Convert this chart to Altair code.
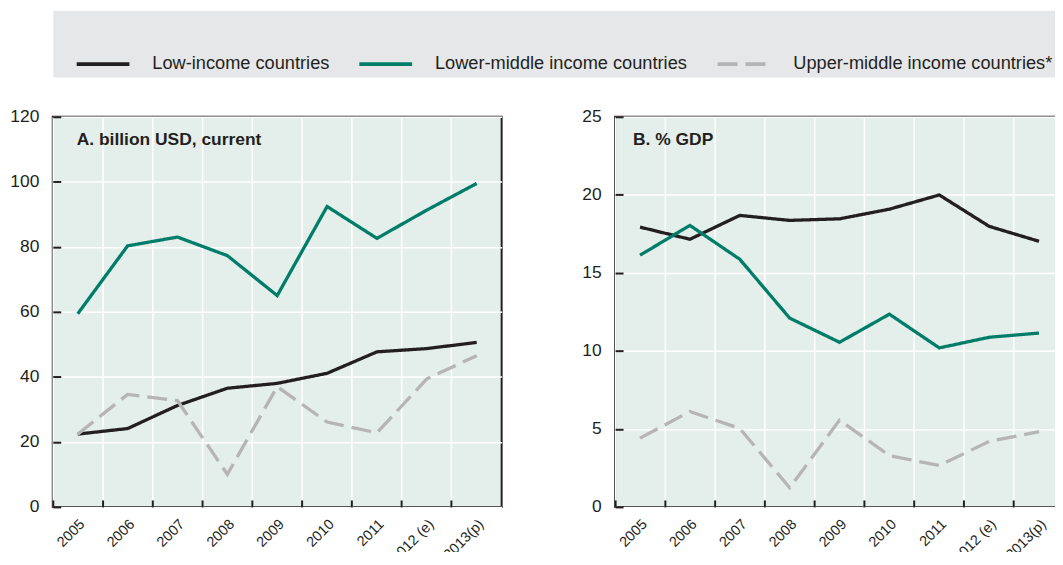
import altair as alt
import pandas as pd

years = ["2005", "2006", "2007", "2008", "2009", "2010", "2011", "2012 (e)", "2013(p)"]
series = ["Low-income countries", "Lower-middle income countries", "Upper-middle income countries*"]

a_low = [22.4, 24.1, 31.2, 36.5, 38.0, 41.1, 47.7, 48.7, 50.6]
a_lmic = [59.4, 80.3, 83.0, 77.3, 65.0, 92.4, 82.6, 91.3, 99.5]
a_umic = [22.4, 34.6, 32.7, 10.0, 37.0, 26.1, 22.8, 39.4, 46.5]

b_low = [17.93, 17.15, 18.68, 18.36, 18.46, 19.08, 19.99, 17.98, 17.02]
b_lmic = [16.13, 18.04, 15.87, 12.10, 10.55, 12.35, 10.19, 10.87, 11.14]
b_umic = [4.41, 6.11, 5.03, 1.23, 5.56, 3.29, 2.65, 4.20, 4.82]

a_ticks = [0, 20, 40, 60, 80, 100, 120]
b_ticks = [0, 5, 10, 15, 20, 25]

DARK = "#231f20"
GREEN = "#007d68"
GREY = "#b5b5b5"
PLOT_BG = "#e4eeea"
LEG_BG = "#e6e7e8"
FONT = "Liberation Sans"

colors = [DARK, GREEN, GREY]
dashes = [[1, 0], [1, 0], [20, 8]]


def long_df(lists):
    rows = []
    for s, vals in zip(series, lists):
        for y, v in zip(years, vals):
            rows.append({"year": y, "series": s, "value": v})
    return pd.DataFrame(rows)


dfA = long_df([a_low, a_lmic, a_umic])
dfB = long_df([b_low, b_lmic, b_umic])

W, H = 451, 392


def panel(df, ymax, ticks, title, title_x):
    xs = alt.Scale(type="band", domain=years, paddingInner=0, paddingOuter=0)
    ys = alt.Scale(domain=[0, ymax], nice=False, zero=True)
    color = alt.Color("series:N", scale=alt.Scale(domain=series, range=colors), legend=None)
    dash = alt.StrokeDash("series:N", scale=alt.Scale(domain=series, range=dashes), legend=None)
    lines = alt.Chart(df).mark_line(strokeWidth=3.3).encode(
        x=alt.X("year:N", sort=years, scale=xs,
                axis=alt.Axis(orient="bottom", bandPosition=0, grid=True, gridColor="white",
                              gridWidth=1.5, gridOpacity=1, ticks=False, tickSize=0, domain=False,
                              labelAngle=315, labelAlign="right", labelBaseline="middle",
                              labelOffset=5, labelPadding=15, labelFontSize=14.5,
                              labelColor=DARK, labelFont=FONT, title=None)),
        y=alt.Y("value:Q", scale=ys,
                axis=alt.Axis(orient="left", values=ticks, grid=True, gridColor="white",
                              gridWidth=1.5, gridOpacity=1, ticks=False, tickSize=0, domain=False,
                              labelPadding=14, labelFontSize=17.5, labelColor=DARK,
                              labelFont=FONT, title=None)),
        color=color,
        strokeDash=dash,
    )
    inner = alt.Chart(df).mark_point(opacity=0).encode(
        x=alt.X("year:N", sort=years, scale=xs,
                axis=alt.Axis(orient="top", offset=-H, bandPosition=0, grid=False, labels=False,
                              ticks=True, tickSize=7, tickWidth=2, tickColor=DARK,
                              domain=False, title=None)),
        y=alt.Y("value:Q", scale=ys,
                axis=alt.Axis(orient="right", offset=-W, values=ticks, grid=False, labels=False,
                              ticks=True, tickSize=8, tickWidth=2, tickColor=DARK,
                              domain=False, title=None)),
    )
    label = alt.Chart(pd.DataFrame({"t": [title]})).mark_text(
        align="left", baseline="middle", fontWeight="bold", fontSize=17.5,
        color=DARK, font=FONT
    ).encode(text="t:N", x=alt.value(title_x), y=alt.value(23))
    return alt.layer(lines, inner, label).resolve_axis(
        x="independent", y="independent"
    ).properties(
        width=W, height=H,
        view=alt.ViewBackground(fill=PLOT_BG, stroke=DARK, strokeWidth=2),
    )


leg = dict(title=None, orient="none", legendX=22, legendY=25.5, direction="horizontal",
           symbolType="stroke", symbolSize=2809, symbolStrokeWidth=4,
           labelFontSize=18.3, labelColor=DARK, labelFont=FONT, labelOffset=21,
           labelLimit=600, columnPadding=22, padding=0)

top = alt.Chart(dfA).mark_line(strokeWidth=4).encode(
    x=alt.X("year:N", axis=None),
    y=alt.Y("value:Q", axis=None),
    color=alt.Color("series:N", scale=alt.Scale(domain=series, range=colors),
                    legend=alt.Legend(**leg)),
    strokeDash=alt.StrokeDash("series:N", scale=alt.Scale(domain=series, range=dashes),
                              legend=alt.Legend(**leg)),
).transform_filter("datum.value < -1000").properties(
    width=W * 2 + 114, height=67,
    view=alt.ViewBackground(fill=LEG_BG, stroke="transparent"),
)

pA = panel(dfA, 120, a_ticks, "A. billion USD, current", 24)
pB = panel(dfB, 25, b_ticks, "B. % GDP", 18)

row = alt.hconcat(pA, pB, spacing=114, bounds="flush").resolve_scale(x="independent", y="independent")

# autosize "none": the picture is a fixed window onto the layout,
# so the right panel and the rotated labels are cropped like the original.
chart = alt.vconcat(top, row, spacing=40, bounds="flush").resolve_scale(
    x="independent", y="independent"
).properties(
    autosize=alt.AutoSizeParams(type="none"),
    padding={"left": 45, "top": 1, "right": 1007, "bottom": 543},
)

chart.save("out.html", embed_options={"renderer": "svg", "actions": False})
